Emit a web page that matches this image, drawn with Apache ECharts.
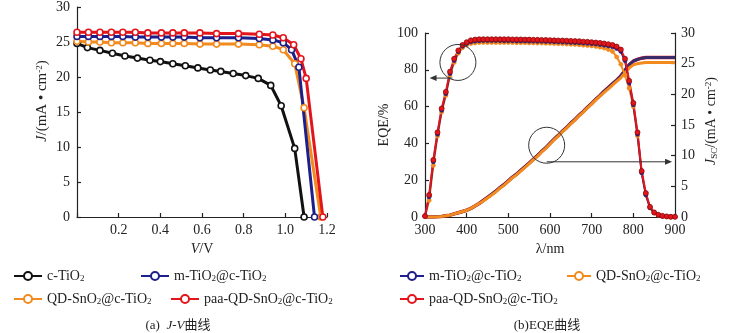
<!DOCTYPE html>
<html><head><meta charset="utf-8">
<script src="https://cdn.jsdelivr.net/npm/echarts@6/dist/echarts.min.js"></script>
<style>html,body{margin:0;padding:0;background:#fff}#c{width:756px;height:333px}</style>
</head><body><div id="c"></div>
<script>
// ---------- Data: J-V curves ----------
const vBlack  = [0,0.05,0.11,0.17,0.23,0.29,0.35,0.40,0.46,0.52,0.58,0.64,0.69,0.75,0.81,0.87,0.93,0.98,1.045,1.09];
const jBlack  = [24.8,24.2,23.8,23.4,23.0,22.7,22.4,22.2,21.9,21.6,21.3,21.0,20.8,20.5,20.2,19.8,18.8,15.9,9.8,0];
const vRed    = [0,0.055,0.11,0.165,0.22,0.28,0.34,0.405,0.46,0.515,0.59,0.67,0.775,0.875,0.94,0.99,1.04,1.075,1.10,1.18];
const jRed    = [26.4,26.4,26.4,26.4,26.4,26.4,26.3,26.3,26.3,26.3,26.3,26.2,26.2,26.1,26.0,25.6,24.6,22.6,19.8,0];
const vBlue   = [0,0.055,0.11,0.165,0.22,0.28,0.34,0.405,0.46,0.515,0.59,0.67,0.775,0.875,0.94,0.99,1.03,1.065,1.14];
const jBlue   = [25.8,25.8,25.8,25.8,25.8,25.7,25.7,25.7,25.7,25.7,25.6,25.6,25.6,25.5,25.3,24.9,23.9,21.4,0];
const vOrange = [0,0.055,0.11,0.165,0.22,0.28,0.34,0.405,0.46,0.515,0.59,0.67,0.775,0.875,0.94,0.99,1.045,1.09,1.17];
const jOrange = [25.1,25.0,25.0,24.9,24.9,24.9,24.8,24.8,24.8,24.8,24.7,24.7,24.7,24.6,24.4,23.9,21.9,15.6,0];

// ---------- Data: EQE & integrated Jsc ----------
const lambda = [300,310,320,330,340,350,360,370,380,390,400,410,420,430,440,450,460,470,480,490,500,510,520,530,540,550,560,570,580,590,600,610,620,630,640,650,660,670,680,690,700,710,720,730,740,750,760,770,780,790,800,810,820,830,840,850,860,870,880,890,900];
const eqeRed    = [0.5,12,31,46,59,68,79,86,90.5,93.5,95,96,96.4,96.6,96.6,96.6,96.6,96.6,96.6,96.6,96.6,96.5,96.5,96.5,96.4,96.4,96.3,96.3,96.2,96.2,96.1,96.0,95.9,95.9,95.8,95.7,95.6,95.5,95.3,95.2,95.0,94.8,94.6,94.3,93.9,93.5,92.6,91.0,86,74,62,46,25,13,5.5,2.5,1.2,0.6,0.3,0.1,0.1];
const eqeBlue   = [0.5,11,30,45,58,67,78,85,89.8,92.8,94.3,95.2,95.6,95.8,95.9,95.9,95.9,95.9,95.9,95.8,95.8,95.8,95.7,95.7,95.7,95.6,95.6,95.5,95.5,95.4,95.4,95.3,95.2,95.1,95.0,94.9,94.8,94.7,94.5,94.4,94.2,94.0,93.7,93.4,93.0,92.5,91.6,90.0,85,73,61,45,24,12,5,2.3,1.1,0.5,0.3,0.1,0.1];
const eqeOrange = [0.3,9,28,44,57,66,77,84,89,92,93.5,94.3,94.6,94.8,94.8,94.8,94.8,94.8,94.8,94.8,94.8,94.8,94.7,94.7,94.7,94.6,94.6,94.5,94.5,94.4,94.4,94.3,94.2,94.1,94.0,93.9,93.8,93.6,93.4,93.2,93.0,92.7,92.3,91.8,91.0,90.0,87,83,77,70,60,44,24,12,5,2.2,1.0,0.5,0.2,0.1,0.1];
const jscRed    = [0,0,0.02,0.05,0.1,0.2,0.3,0.5,0.7,0.9,1.1,1.4,1.8,2.2,2.7,3.2,3.7,4.2,4.8,5.3,5.9,6.5,7.0,7.6,8.2,8.8,9.4,10.0,10.7,11.3,12.0,12.7,13.3,14.0,14.6,15.3,15.9,16.6,17.2,17.9,18.5,19.2,19.8,20.5,21.1,21.7,22.3,23.0,23.9,24.8,25.4,25.7,25.9,26.0,26.0,26.0,26.0,26.0,26.0,26.0,26.0];
const jscBlue   = [0,0,0.02,0.05,0.1,0.2,0.3,0.5,0.7,0.9,1.1,1.4,1.8,2.2,2.7,3.2,3.7,4.2,4.8,5.3,5.9,6.5,7.0,7.6,8.2,8.8,9.4,10.0,10.7,11.3,12.0,12.7,13.3,14.0,14.6,15.3,15.9,16.6,17.2,17.9,18.5,19.2,19.8,20.5,21.1,21.7,22.3,23.0,23.9,24.8,25.4,25.7,25.9,26.0,26.0,26.0,26.0,26.0,26.0,26.0,26.0];
const jscOrange = [0,0,0.02,0.05,0.1,0.2,0.3,0.5,0.7,0.9,1.1,1.4,1.8,2.2,2.6,3.1,3.6,4.1,4.7,5.2,5.8,6.4,6.9,7.5,8.1,8.7,9.3,9.9,10.6,11.2,11.9,12.6,13.2,13.9,14.5,15.2,15.8,16.5,17.1,17.8,18.4,19.1,19.7,20.3,20.9,21.5,22.1,22.7,23.5,24.3,24.8,25.0,25.1,25.2,25.2,25.2,25.2,25.2,25.2,25.2,25.2];

// ---------- Text ----------
const names = ['c-TiO2','m-TiO2@c-TiO2','QD-SnO2@c-TiO2','paa-QD-SnO2@c-TiO2'];
const captionA = '(a)  {i|J}-{i|V}曲线';
const captionB = '(b)EQE曲线';
// annotation anchors (data coordinates on the EQE plot)
const ann1Circle = [379, 84];   // [λ, EQE]
const ann1Arrow  = [[366, 75.5], [311, 75.5]];
const ann2Circle = [592, 11.7]; // [λ, Jsc]
const ann2Arrow  = [[592, 9.0], [893, 9.0]];

const COL = {black:'#111111', blue:'#1d1f8a', orange:'#f28a1e', red:'#e3151c'};
const FONT = 'Liberation Serif, "Times New Roman", "Noto Sans CJK SC", serif';
const pair = (xs, ys) => xs.map((x,i)=>[x, ys[i]]);

const chart = echarts.init(document.getElementById('c'));

const axisCommon = {
  axisLine:{show:true, lineStyle:{color:'#222', width:1.2}},
  axisTick:{show:true, inside:true, length:4, lineStyle:{color:'#222', width:1.2}},
  splitLine:{show:false},
  axisLabel:{color:'#222', fontFamily:FONT, fontSize:14},
  nameTextStyle:{color:'#222', fontFamily:FONT, fontSize:14}
};
const richName = {
  i:{fontStyle:'italic', fontFamily:FONT, fontSize:14, color:'#222'},
  sup:{fontSize:9, fontFamily:FONT, verticalAlign:'top', color:'#222', padding:[0,0,6,0]},
  sub:{fontSize:9, fontFamily:FONT, verticalAlign:'bottom', color:'#222', padding:[6,0,0,0]}
};
const legendRich = { s:{fontSize:9, fontFamily:FONT, color:'#222', verticalAlign:'bottom', padding:[6,0,0,0]} };
const fmtName = n => n.replace(/O2/g, 'O{s|2}');

function legendAt(name, left, top, w){
  return {data:[name], left:left, top:top, itemWidth:w, itemHeight:10, itemGap:0, padding:0,
    formatter: fmtName, selectedMode:false,
    textStyle:{fontFamily:FONT, fontSize:14, color:'#222', rich:legendRich}};
}

function jvSeries(name, xs, ys, color){
  return {name, type:'line', xAxisIndex:0, yAxisIndex:0, data:pair(xs,ys),
    symbol:'circle', symbolSize:6, showSymbol:true,
    lineStyle:{color, width:3}, itemStyle:{color:'#ffffff', borderColor:color, borderWidth:1.6}};
}
function eqeSeries(name, ys, color, size, border){
  return {name, type:'line', xAxisIndex:1, yAxisIndex:1, data:pair(lambda, ys),
    symbol:'circle', symbolSize:size, showSymbol:true,
    lineStyle:{color, width:2}, itemStyle:{color, borderColor:border, borderWidth:0.8}};
}
function jscSeries(name, ys, color, width){
  return {name, type:'line', xAxisIndex:1, yAxisIndex:2, data:pair(lambda, ys),
    showSymbol:false, symbol:'none', lineStyle:{color, width}};
}

chart.setOption({
  animation:false,
  grid:[
    {left:77, top:6, width:250, height:211},
    {left:425, top:33, width:250, height:184}
  ],
  xAxis:[
    Object.assign({}, axisCommon, {gridIndex:0, type:'value', min:0, max:1.2, interval:0.2,
      name:'{i|V}/V', nameLocation:'middle', nameGap:21, nameTextStyle:Object.assign({}, axisCommon.nameTextStyle, {rich:richName}),
      axisLabel:Object.assign({}, axisCommon.axisLabel, {margin:6, formatter:v=> v===0 ? '' : v.toFixed(1)})}),
    Object.assign({}, axisCommon, {gridIndex:1, type:'value', min:300, max:900, interval:100,
      name:'λ/nm', nameLocation:'middle', nameGap:21,
      axisLabel:Object.assign({}, axisCommon.axisLabel, {margin:6})})
  ],
  yAxis:[
    Object.assign({}, axisCommon, {gridIndex:0, type:'value', min:0, max:30, interval:5,
      name:'{i|J}/(mA • cm{sup|-2})', nameLocation:'middle', nameGap:27, nameRotate:90,
      nameTextStyle:Object.assign({}, axisCommon.nameTextStyle, {fontSize:15, rich:richName, padding:[0,0,0,22]}),
      axisLabel:Object.assign({}, axisCommon.axisLabel, {margin:7})}),
    Object.assign({}, axisCommon, {gridIndex:1, type:'value', min:0, max:100, interval:20,
      name:'EQE/%', nameLocation:'middle', nameGap:34, nameRotate:90,
      axisLabel:Object.assign({}, axisCommon.axisLabel, {margin:7})}),
    Object.assign({}, axisCommon, {gridIndex:1, type:'value', position:'right', min:0, max:30, interval:5,
      name:'{i|J}{sub|SC}/(mA • cm{sup|-2})', nameLocation:'middle', nameGap:29, nameRotate:90,
      nameTextStyle:Object.assign({}, axisCommon.nameTextStyle, {rich:richName, padding:[0,0,0,8]}),
      axisLabel:Object.assign({}, axisCommon.axisLabel, {margin:6})})
  ],
  legend:[
    legendAt(names[0], 13, 269, 28),
    legendAt(names[1], 140, 269, 28),
    legendAt(names[2], 13, 292, 28),
    legendAt(names[3], 170, 292, 28),
    legendAt(names[1], 399, 269, 24),
    legendAt(names[2], 566, 269, 24),
    legendAt(names[3], 399, 292, 24)
  ],
  series:[
    jvSeries(names[0], vBlack, jBlack, COL.black),
    jvSeries(names[2], vOrange, jOrange, COL.orange),
    jvSeries(names[1], vBlue, jBlue, COL.blue),
    jvSeries(names[3], vRed, jRed, COL.red),
    jscSeries(names[3], jscRed, COL.red, 3.5),
    jscSeries(names[1], jscBlue, '#3a2a6a', 3),
    jscSeries(names[2], jscOrange, COL.orange, 3),
    eqeSeries(names[2], eqeOrange, COL.orange, 4, COL.orange),
    eqeSeries(names[1], eqeBlue, COL.blue, 4, COL.blue),
    eqeSeries(names[3], eqeRed, COL.red, 5, '#8a0a0a')
  ]
});

// ----- annotations (circles + arrows), positioned through the axes -----
function px(axisY, p){ return chart.convertToPixel({xAxisIndex:1, yAxisIndex:axisY}, p); }
function arrow(a, b){
  const dir = Math.sign(b[0]-a[0]);
  const h = 7, w = 3;
  return [
    {type:'line', shape:{x1:a[0], y1:a[1], x2:b[0]-dir*h*0.6, y2:b[1]}, style:{stroke:'#333', lineWidth:1}, z:100},
    {type:'polygon', shape:{points:[[b[0],b[1]],[b[0]-dir*h,b[1]-w],[b[0]-dir*h,b[1]+w]]}, style:{fill:'#333'}, z:100}
  ];
}
const c1 = px(1, ann1Circle), c2 = px(2, ann2Circle);
const graphics = [
  {type:'circle', shape:{cx:c1[0], cy:c1[1], r:18}, style:{fill:'none', stroke:'#333', lineWidth:1}, z:100},
  {type:'circle', shape:{cx:c2[0], cy:c2[1], r:18}, style:{fill:'none', stroke:'#333', lineWidth:1}, z:100},
  ...arrow(px(1, ann1Arrow[0]), px(1, ann1Arrow[1])),
  ...arrow(px(2, ann2Arrow[0]), px(2, ann2Arrow[1])),
  {type:'text', style:{text:captionA, x:178, y:326, align:'center', verticalAlign:'middle',
     fontFamily:FONT, fontSize:13, fill:'#222', rich:{i:{fontStyle:'italic', fontFamily:FONT, fontSize:13, fill:'#222'}}}},
  {type:'text', style:{text:captionB, x:547, y:326, align:'center', verticalAlign:'middle',
     fontFamily:FONT, fontSize:13, fill:'#222'}}
];
chart.setOption({graphic:graphics});
</script>
</body></html>
